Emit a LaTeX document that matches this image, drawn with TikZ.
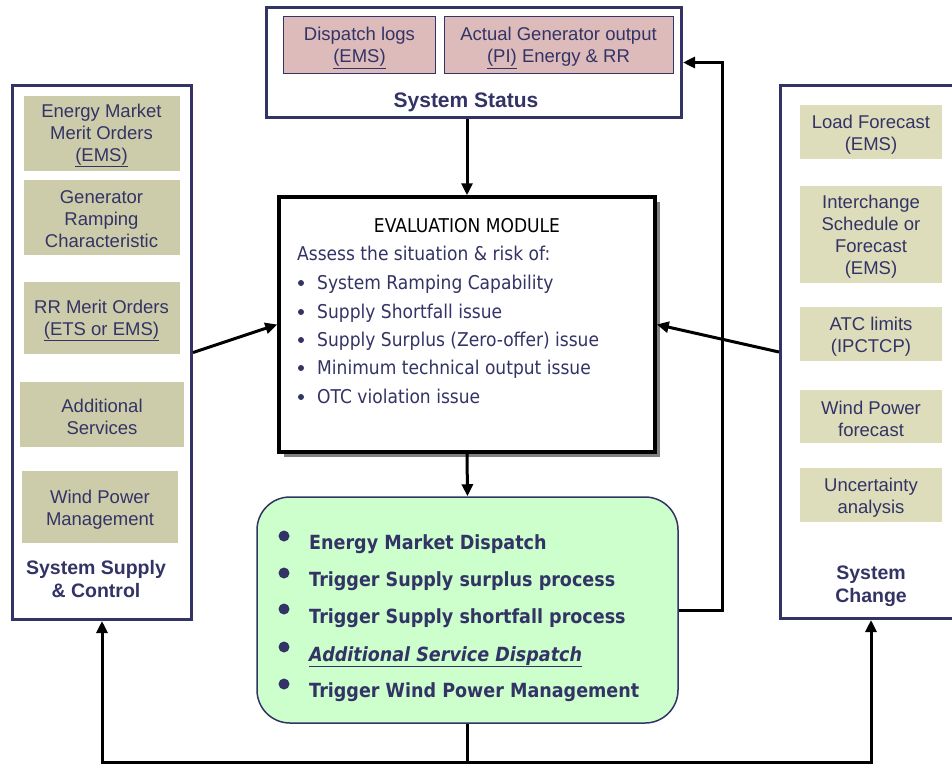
\documentclass[tikz,border=0pt]{standalone}
\usepackage{fontspec}
\setmainfont{Liberation Sans}
\newfontfamily\tah[FakeStretch=0.9]{DejaVu Sans}
\usetikzlibrary{arrows.meta,shadows}
\definecolor{navy}{HTML}{333366}
\definecolor{pinkf}{HTML}{DDBBBB}
\definecolor{olivef}{HTML}{CCCCAA}
\definecolor{olivel}{HTML}{DDDDBB}
\definecolor{mint}{HTML}{CCFFCC}
\tikzset{
  outerbox/.style={draw=navy, line width=3pt, fill=white, inner sep=0pt},
  boxtxt/.style={align=center, text=navy, font=\fontsize{18.5}{22}\selectfont, inner sep=0pt},
  pinkbox/.style={draw=navy, line width=0.8pt, fill=pinkf, inner sep=0pt},
  olbox/.style={fill=olivef, inner sep=0pt},
  olboxl/.style={olbox, fill=olivel},
  grplbl/.style={text=navy, font=\bfseries\fontsize{19.5}{22.5}\selectfont, align=center, inner sep=0pt},
  arr/.style={line width=3pt, -{Triangle[length=12pt,width=11pt]}},
  plainln/.style={line width=3pt},
  etext/.style={anchor=base west, text=navy, font=\tah\fontsize{19}{23}\selectfont, inner sep=0pt},
  gtext/.style={anchor=base west, text=navy, font=\tah\bfseries\fontsize{19.5}{23}\selectfont, inner sep=0pt},
  gdot/.style={circle, fill=navy, minimum size=11pt, inner sep=0pt},
  edot/.style={circle, fill=navy, minimum size=6pt, inner sep=0pt}
}
\begin{document}
\begin{tikzpicture}[x=1pt,y=-1pt]
\useasboundingbox (0,0) rectangle (952,764);
\clip (0,0) rectangle (952,764);
\fill[white] (0,0) rectangle (952,764);

% System status
\node[outerbox, minimum width=415pt, minimum height=110pt] (status) at (474,62.5) {};
\node[pinkbox, minimum width=152pt, minimum height=57pt,
      label={[boxtxt, yshift=-3.5pt]center:{Dispatch logs\\\underline{(EMS)}}}] (dl) at (359.5,44.5) {};
\node[pinkbox, minimum width=229pt, minimum height=57pt,
      label={[boxtxt, yshift=-3.5pt]center:{Actual Generator output\\\underline{(PI)} Energy \& RR}}] (ag) at (558.5,44.5) {};
\node[text=navy, font=\bfseries\fontsize{21}{24}\selectfont, anchor=base, inner sep=0pt] (stlbl) at (466,107) {System Status};

% Evaluation module
\node[draw=black, line width=3.5pt, fill=white, minimum width=376pt, minimum height=255pt, inner sep=0pt,
      drop shadow={shadow xshift=5pt, shadow yshift=-5pt, fill=gray, opacity=1}] (eval) at (467,324.5) {};
\node[anchor=base, font=\tah\fontsize{19}{23}\selectfont, text=black, inner sep=0pt] (etitle) at (467,232) {EVALUATION MODULE};
\node[etext] (e0) at (297,260) {Assess the situation \& risk of:};
\node[edot] (d1) at (301,283) {};
\node[etext] (e1) at (317,289) {System Ramping Capability};
\node[edot] (d2) at (301,312) {};
\node[etext] (e2) at (317,318) {Supply Shortfall issue};
\node[edot] (d3) at (301,340) {};
\node[etext] (e3) at (317,346) {Supply Surplus (Zero-offer) issue};
\node[edot] (d4) at (301,368) {};
\node[etext] (e4) at (317,374) {Minimum technical output issue};
\node[edot] (d5) at (301,397) {};
\node[etext] (e5) at (317,403) {OTC violation issue};

% Green action box
\node[draw=navy, line width=1.5pt, fill=mint, rounded corners=33pt, minimum width=421pt, minimum height=226pt, inner sep=0pt] (green) at (467.5,610) {};
\node[gdot] (g1d) at (284,536) {};
\node[gtext] (g1) at (309,549) {Energy Market Dispatch};
\node[gdot] (g2d) at (284,573) {};
\node[gtext] (g2) at (309,586) {Trigger Supply surplus process};
\node[gdot] (g3d) at (284,609) {};
\node[gtext] (g3) at (309,623) {Trigger Supply shortfall process};
\node[gdot] (g4d) at (284,647) {};
\node[gtext] (g4) at (309,661) {\underline{\itshape Additional Service Dispatch}};
\node[gdot] (g5d) at (284,684) {};
\node[gtext] (g5) at (309,697) {Trigger Wind Power Management};

% Left group
\node[outerbox, minimum width=179pt, minimum height=534pt] (leftbox) at (102,352.5) {};
\node[olbox, minimum width=156pt, minimum height=75pt,
      label={[boxtxt, yshift=-2pt]center:{Energy Market\\Merit Orders\\\underline{(EMS)}}}] (em) at (101.5,133.5) {};
\node[olbox, minimum width=156pt, minimum height=75pt,
      label={[boxtxt, yshift=-1.5pt]center:{Generator\\Ramping\\Characteristic}}] (gr) at (101.5,217.5) {};
\node[olbox, minimum width=156pt, minimum height=72pt,
      label={[boxtxt, yshift=-2.5pt]center:{RR Merit Orders\\\underline{(ETS or EMS)}}}] (rr) at (101.5,318) {};
\node[olbox, minimum width=164pt, minimum height=65pt,
      label={[boxtxt, yshift=-2.5pt]center:{Additional\\Services}}] (as) at (102,414.5) {};
\node[olbox, minimum width=156pt, minimum height=72pt,
      label={[boxtxt, yshift=-2.5pt]center:{Wind Power\\Management}}] (wp) at (100,507) {};
\node[grplbl] (llbl) at (96,579) {System Supply\\\& Control};

% Right group
\node[outerbox, minimum width=219.5pt, minimum height=533pt] (rightbox) at (890.25,352) {};
\node[olboxl, minimum width=142pt, minimum height=54pt,
      label={[boxtxt, yshift=-2.5pt]center:{Load Forecast\\(EMS)}}] (lf) at (871,132) {};
\node[olboxl, minimum width=142pt, minimum height=97pt,
      label={[boxtxt, yshift=-2pt]center:{Interchange\\Schedule or\\Forecast\\(EMS)}}] (ic) at (871,234.5) {};
\node[olboxl, minimum width=142pt, minimum height=54pt,
      label={[boxtxt, yshift=-2.5pt]center:{ATC limits\\(IPCTCP)}}] (atc) at (871,334) {};
\node[olboxl, minimum width=142pt, minimum height=53pt,
      label={[boxtxt, yshift=-2.5pt]center:{Wind Power\\forecast}}] (wf) at (871,416.5) {};
\node[olboxl, minimum width=142pt, minimum height=54pt,
      label={[boxtxt, yshift=-2.5pt]center:{Uncertainty\\analysis}}] (ua) at (871,495) {};
\node[grplbl] (rlbl) at (871,586) {System\\Change};

% Connectors
\draw[arr] (status.south -| eval.north) -- (eval.north);
\draw[arr] (eval.south) -- (green.north);
\draw[arr] (leftbox.east) -- (eval.west);
\draw[arr] (rightbox.west) -- (eval.east);
\draw[arr] (green.east) -- ++(44,0) |- (status.east);
\draw[plainln] (green.south) -- ++(0,39) coordinate (bj);
\draw[arr] (bj) -| (leftbox.south);
\draw[arr] (bj) -| (rightbox.south -| rlbl.south);
\end{tikzpicture}
\end{document}
